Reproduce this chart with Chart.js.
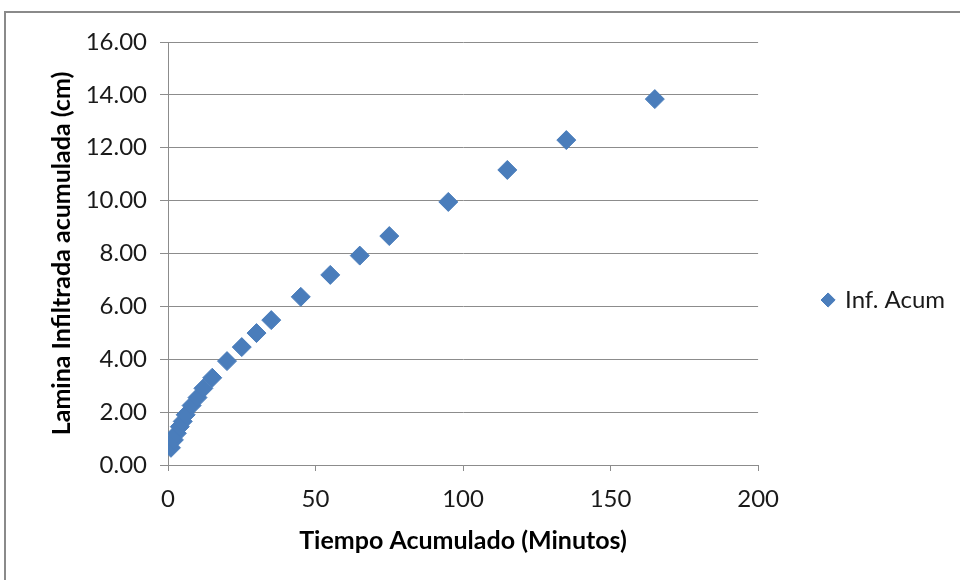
<!DOCTYPE html>
<html lang="es">
<head>
    <meta charset="UTF-8">
    <title>Lamina Infiltrada acumulada</title>
    <script src="https://cdn.jsdelivr.net/npm/chart.js"></script>
    <style>
        body { margin: 0; background: #fff; }
        #marco {
            position: absolute; left: 4px; top: 11px;
            width: 956px; height: 569px;
            border-left: 2px solid #8a8a8a; border-top: 2px solid #8a8a8a;
        }
        #caja { position: absolute; left: 0; top: 0; width: 954px; height: 567px; }
    </style>
</head>
<body>
    <div id="marco"><div id="caja"><canvas id="grafico"></canvas></div></div>

    <script>
        // datos
        const tiempo = [1, 2, 3, 4, 5, 6, 8, 10, 12, 15, 20, 25, 30, 35, 45, 55, 65, 75, 95, 115, 135, 165];
        const infAcum = [0.65, 0.95, 1.2, 1.45, 1.65, 1.9, 2.25, 2.55, 2.9, 3.3, 3.93, 4.46, 4.99, 5.48,
                         6.36, 7.19, 7.92, 8.66, 9.95, 11.16, 12.29, 13.84];
        const ticksX = [0, 50, 100, 150, 200];
        const ticksY = [0, 2, 4, 6, 8, 10, 12, 14, 16];

        const gris = '#8c8c8c';
        const fuente = 'Lato, "Open Sans", sans-serif';

        const puntos = tiempo.map((t, i) => ({ x: t, y: infAcum[i] }));

        const ctx = document.getElementById('grafico').getContext('2d');
        new Chart(ctx, {
            type: 'scatter',
            data: {
                datasets: [{
                    label: 'Inf. Acum',
                    data: puntos,
                    pointStyle: 'rectRot',
                    pointRadius: 9.5,
                    pointHoverRadius: 9.5,
                    backgroundColor: '#4a7dbb',
                    borderColor: '#4a7dbb',
                    borderWidth: 1
                }]
            },
            options: {
                responsive: true,
                maintainAspectRatio: false,
                animation: false,
                // padding inferior grande para subir la leyenda al centro del marco
                layout: { padding: { left: 30, top: 29, bottom: 22, right: 5 } },
                plugins: {
                    tooltip: { enabled: false },
                    legend: {
                        position: 'right',
                        labels: {
                            usePointStyle: true,
                            boxWidth: 10,
                            boxHeight: 10,
                            padding: 65,
                            color: '#1a1a1a',
                            font: { family: fuente, size: 24 }
                        }
                    }
                },
                scales: {
                    x: {
                        type: 'linear',
                        min: ticksX[0],
                        max: ticksX[ticksX.length - 1],
                        afterBuildTicks: (s) => { s.ticks = ticksX.map(v => ({ value: v })); },
                        afterFit: (s) => { s.height = 93; },
                        grid: { drawOnChartArea: false, color: gris, tickLength: 6 },
                        border: { color: gris },
                        ticks: {
                            padding: 14,
                            color: '#1a1a1a',
                            font: { family: fuente, size: 24 }
                        },
                        title: {
                            display: true,
                            text: 'Tiempo Acumulado (Minutos)',
                            color: '#000',
                            padding: { top: 0, bottom: 2 },
                            font: { family: fuente, size: 25, weight: 'bold' }
                        }
                    },
                    y: {
                        min: ticksY[0],
                        max: ticksY[ticksY.length - 1],
                        afterBuildTicks: (s) => { s.ticks = ticksY.map(v => ({ value: v })); },
                        afterFit: (s) => { s.width = 132; },
                        grid: { color: gris, tickLength: 8 },
                        border: { color: gris },
                        ticks: {
                            padding: 13,
                            color: '#1a1a1a',
                            font: { family: fuente, size: 24 },
                            callback: (v) => v.toFixed(2)
                        },
                        title: {
                            display: true,
                            text: 'Lamina Infiltrada acumulada (cm)',
                            color: '#000',
                            padding: { top: 11, bottom: 0 },
                            font: { family: fuente, size: 25, weight: 'bold' }
                        }
                    }
                }
            }
        });
    </script>
</body>
</html>
